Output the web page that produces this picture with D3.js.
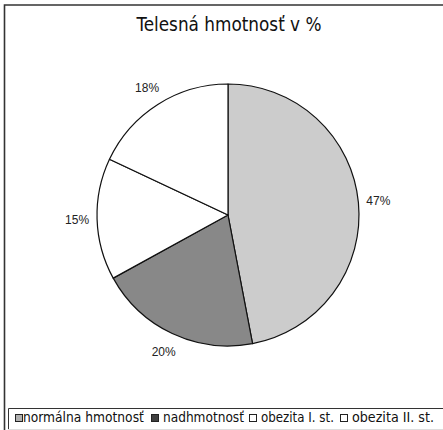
<!DOCTYPE html>
<html>
<head>
<meta charset="utf-8">
<script src="https://cdn.jsdelivr.net/npm/d3@7"></script>
<style>
  body { margin: 0; background: #fff; }
  svg { display: block; }
</style>
</head>
<body>
<div id="chart"></div>
<script>
const categories = ['normálna hmotnosť', 'nadhmotnosť', 'obezita I. st.', 'obezita II. st.'];
const values = [47, 20, 15, 18];
const sliceColors = ['#cccccc', '#888888', '#ffffff', '#ffffff'];
const legendColors = ['#b0b0b0', '#404040', '#ffffff', '#ffffff'];

const width = 443, height = 430;
const cx = 228, cy = 215, radius = 131;

const svg = d3.select('#chart').append('svg')
  .attr('width', width)
  .attr('height', height);

// outer frame (open on the right / bottom like the cropped original)
svg.append('path')
  .attr('d', `M4.5,${height} V5 H${width}`)
  .attr('fill', 'none')
  .attr('stroke', '#333')
  .attr('stroke-width', 1.6);

// title
const title = svg.append('text')
  .attr('x', 229)
  .attr('y', 31)
  .attr('text-anchor', 'middle')
  .style('font-family', '"DejaVu Sans Condensed", "DejaVu Sans", sans-serif')
  .style('font-size', '18px')
  .attr('fill', '#111')
  .text('Telesná hmotnosť v %');
// fit the title to the width seen in the picture
const tw = title.node().getComputedTextLength();
title.style('font-size', (18 * 185 / tw).toFixed(2) + 'px');

const pie = d3.pie().sort(null).value(d => d);
const arc = d3.arc().innerRadius(0).outerRadius(radius);
const labelArc = d3.arc().innerRadius(151).outerRadius(151);

const g = svg.append('g').attr('transform', `translate(${cx},${cy})`);

g.selectAll('path')
  .data(pie(values))
  .enter()
  .append('path')
  .attr('d', arc)
  .attr('fill', (d, i) => sliceColors[i])
  .attr('stroke', '#111')
  .attr('stroke-width', 1.2)
  .attr('stroke-linejoin', 'round');

g.selectAll('text')
  .data(pie(values))
  .enter()
  .append('text')
  .attr('transform', d => `translate(${labelArc.centroid(d)})`)
  .attr('dy', '0.35em')
  .attr('text-anchor', 'middle')
  .style('font-family', '"Liberation Sans", Arial, sans-serif')
  .style('font-size', '12px')
  .attr('fill', '#222')
  .text(d => d.data + '%');

// legend box
svg.append('path')
  .attr('d', `M8.5,${height} V408.5 H${width}`)
  .attr('fill', 'none')
  .attr('stroke', '#333')
  .attr('stroke-width', 1);
svg.append('line')
  .attr('x1', 8).attr('x2', width)
  .attr('y1', 429.5).attr('y2', 429.5)
  .attr('stroke', '#ddd');

// legend items, start x of each swatch
const legendX = [15, 151, 249, 340];
const textEnd = [144, 244, 334, 434];
const legend = svg.append('g');
categories.forEach((c, i) => {
  legend.append('rect')
    .attr('x', legendX[i] + 0.5)
    .attr('y', 414.5)
    .attr('width', 7)
    .attr('height', 7)
    .attr('fill', legendColors[i])
    .attr('stroke', '#222')
    .attr('stroke-width', 1);
  const tx = legendX[i] + (i === 0 ? 8 : 12);
  const t = legend.append('text')
    .attr('x', tx)
    .attr('y', 422)
    .style('font-family', '"DejaVu Sans Condensed", "DejaVu Sans", sans-serif')
    .style('font-size', '11px')
    .attr('fill', '#111')
    .text(c);
  const w = t.node().getComputedTextLength();
  t.style('font-size', (11 * (textEnd[i] - tx) / w).toFixed(2) + 'px');
});
</script>
</body>
</html>
